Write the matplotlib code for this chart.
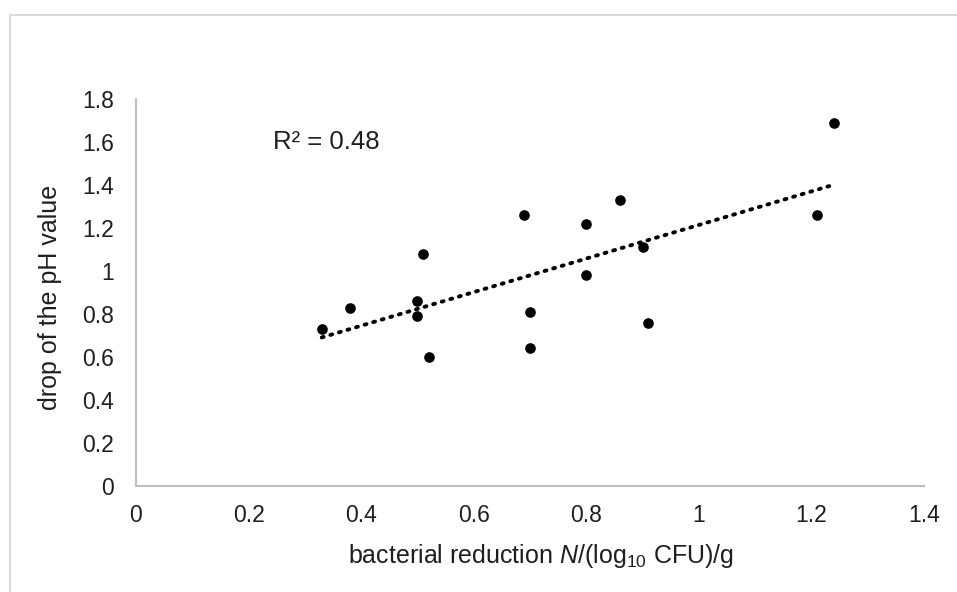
"""Scatter of pH drop against bacterial reduction with linear trendline."""

import matplotlib

matplotlib.use("Agg")
import matplotlib.pyplot as plt
import numpy as np
from matplotlib.patches import Rectangle

# bacterial reduction, log10 CFU/g
reduction = [0.33, 0.38, 0.50, 0.50, 0.51, 0.52, 0.69, 0.70, 0.70,
             0.80, 0.80, 0.86, 0.90, 0.91, 1.21, 1.24]
# drop of the pH value
ph_drop = [0.73, 0.83, 0.86, 0.79, 1.08, 0.60, 1.26, 0.81, 0.64,
           1.22, 0.98, 1.33, 1.11, 0.76, 1.26, 1.69]

x_ticks = [0, 0.2, 0.4, 0.6, 0.8, 1, 1.2, 1.4]
y_ticks = [0, 0.2, 0.4, 0.6, 0.8, 1, 1.2, 1.4, 1.6, 1.8]
r2_label = "R² = 0.48"

plt.rcParams["font.family"] = ["Liberation Sans", "DejaVu Sans"]
plt.rcParams["mathtext.fontset"] = "custom"
plt.rcParams["mathtext.rm"] = "Liberation Sans"
plt.rcParams["mathtext.it"] = "Liberation Sans:italic"

text_col = "#1f1f1f"
axis_col = "#bfbfbf"

fig = plt.figure(figsize=(9.57, 5.92), dpi=100)
ax = fig.add_axes([136 / 957, 1 - 486 / 592, (924 - 136) / 957, (486 - 99) / 592])

# outer chart border (partly cut off at right/bottom like the original)
fig.patches.append(Rectangle((10 / 957, -0.2), 1.2, 1.2 - 15 / 592,
                             transform=fig.transFigure, fill=False,
                             edgecolor="#d9d9d9", lw=1.5))

x = np.array(reduction)
y = np.array(ph_drop)
ax.scatter(x, y, s=44, color="black", zorder=3)

slope, intercept = np.polyfit(x, y, 1)
xf = np.array([x.min(), x.max()])
ax.plot(xf, slope * xf + intercept, color="black", lw=2.8,
        linestyle=(0, (0.5, 1.8)), dash_capstyle="round", zorder=2)

ax.set_xlim(0, 1.4)
ax.set_ylim(0, 1.8)
ax.set_xticks(x_ticks)
ax.set_xticklabels([f"{t:g}" for t in x_ticks])
ax.set_yticks(y_ticks)
ax.set_yticklabels([f"{t:g}" for t in y_ticks])
ax.tick_params(length=0, labelsize=16.5, colors=text_col)
ax.tick_params(axis="y", pad=16)
ax.tick_params(axis="x", pad=13)

for side in ("top", "right"):
    ax.spines[side].set_visible(False)
for side in ("left", "bottom"):
    ax.spines[side].set_color(axis_col)
    ax.spines[side].set_linewidth(1.5)

ax.text(0.243, 1.6, r2_label, fontsize=18.5, color=text_col, va="center")

fig.text(541 / 957, 1 - 556 / 592,
         "bacterial reduction $N$/(log$_{10}$ CFU)/g",
         fontsize=18, color=text_col, ha="center", va="center")
fig.text(50 / 957, 1 - 297 / 592, "drop of the pH value", rotation=90,
         fontsize=18, color=text_col, ha="center", va="center")

fig.savefig("out.png", dpi=100, facecolor="white")
plt.close(fig)
